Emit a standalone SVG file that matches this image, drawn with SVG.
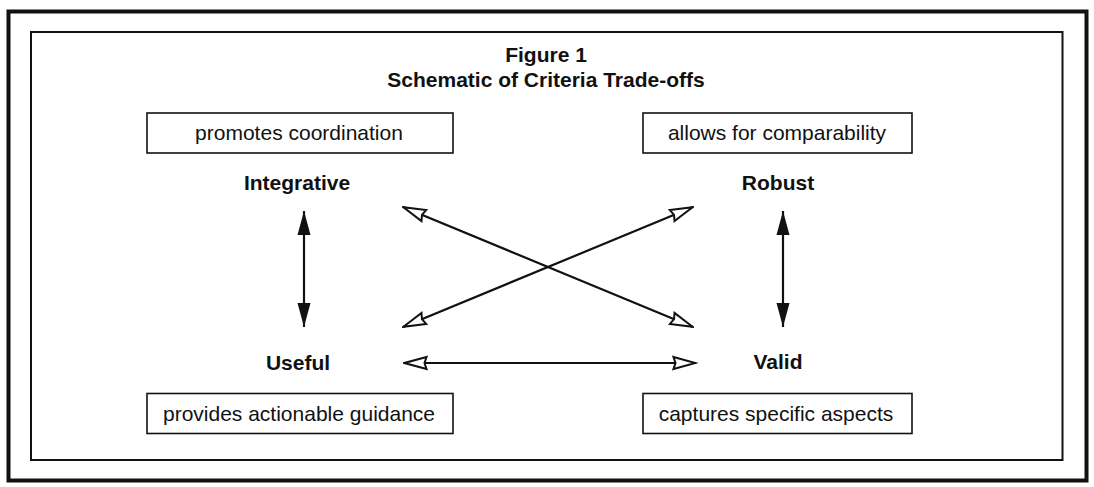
<svg xmlns="http://www.w3.org/2000/svg" width="1094" height="487" viewBox="0 0 1094 487">
<style>
  .frame-outer { fill: none; stroke: #111; stroke-width: 4; }
  .frame-inner { fill: none; stroke: #111; stroke-width: 2; }
  .title { font-family: "Liberation Sans", Arial, Helvetica, sans-serif; font-weight: bold; font-size: 21px; fill: #111; text-anchor: middle; }
  .label { font-family: "Liberation Sans", Arial, Helvetica, sans-serif; font-weight: bold; font-size: 21px; fill: #111; text-anchor: middle; }
  .box { fill: #fff; stroke: #111; stroke-width: 1.6; }
  .boxtext { font-family: "Liberation Sans", Arial, Helvetica, sans-serif; font-size: 21px; fill: #111; text-anchor: middle; }
  .conn { stroke: #111; stroke-width: 2.2; fill: none; }
</style>
<defs>
  <marker id="solid" viewBox="0 0 24 14" refX="24" refY="7" markerWidth="24" markerHeight="14" markerUnits="userSpaceOnUse" orient="auto-start-reverse">
    <path d="M0,0.5 L24,7 L0,13.5 Z" fill="#111"/>
  </marker>
  <marker id="open" viewBox="0 0 26 16" refX="24.5" refY="8" markerWidth="26" markerHeight="16" markerUnits="userSpaceOnUse" orient="auto-start-reverse">
    <path d="M2,2 L24,8 L2,14 L4,8 Z" fill="#fff" stroke="#111" stroke-width="2" stroke-linejoin="miter"/>
  </marker>
</defs>
<rect width="1094" height="487" fill="#fff"/>
<rect class="frame-outer" x="8.5" y="11.5" width="1078" height="469"/>
<rect class="frame-inner" x="31" y="32" width="1031.5" height="428"/>
<g id="title">
  <text class="title" x="546" y="62">Figure 1</text>
  <text class="title" x="546" y="87">Schematic of Criteria Trade-offs</text>
</g>
<g id="integrative">
  <rect class="box" x="147" y="113" width="306" height="40"/>
  <text class="boxtext" x="299" y="140">promotes coordination</text>
  <text class="label" x="297" y="190">Integrative</text>
</g>
<g id="robust">
  <rect class="box" x="643" y="113" width="269" height="40"/>
  <text class="boxtext" x="777" y="140">allows for comparability</text>
  <text class="label" x="778" y="190">Robust</text>
</g>
<g id="useful">
  <text class="label" x="298" y="370">Useful</text>
  <rect class="box" x="147" y="393.5" width="306" height="40"/>
  <text class="boxtext" x="299" y="421">provides actionable guidance</text>
</g>
<g id="valid">
  <text class="label" x="778" y="369">Valid</text>
  <rect class="box" x="643" y="393.5" width="269" height="40"/>
  <text class="boxtext" x="776" y="421">captures specific aspects</text>
</g>
<g id="connectors">
  <line class="conn" x1="304" y1="211" x2="304" y2="327" marker-start="url(#solid)" marker-end="url(#solid)"/>
  <line class="conn" x1="783" y1="211" x2="783" y2="327" marker-start="url(#solid)" marker-end="url(#solid)"/>
  <line class="conn" x1="403" y1="207" x2="693" y2="327" marker-start="url(#open)" marker-end="url(#open)"/>
  <line class="conn" x1="403" y1="327" x2="693" y2="207" marker-start="url(#open)" marker-end="url(#open)"/>
  <line class="conn" x1="404" y1="363" x2="696" y2="363" marker-start="url(#open)" marker-end="url(#open)"/>
</g>
</svg>
